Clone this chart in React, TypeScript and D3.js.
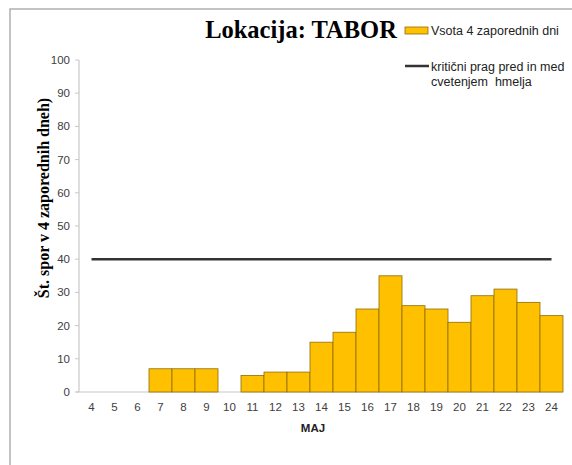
import React from "react";
import * as d3 from "d3";

const days = ["4","5","6","7","8","9","10","11","12","13","14","15","16","17","18","19","20","21","22","23","24"];
const values = [0,0,0,7,7,7,0,5,6,6,15,18,25,35,26,25,21,29,31,27,23];
const threshold = 40;
const yTicks = [0,10,20,30,40,50,60,70,80,90,100];
const title = "Lokacija: TABOR";
const seriesName = "Vsota 4 zaporednih dni";
const lineName1 = "kritični prag pred in med";
const lineName2 = "cvetenjem\u00a0 hmelja";
const yTitle = "Št. spor v 4 zaporednih dneh)";
const xTitle = "MAJ";

export default function App() {
  const W = 572, H = 465;
  const x = d3.scaleBand<string>().domain(days).range([80, 563]).padding(0);
  const y = d3.scaleLinear().domain([0, 100]).range([392, 60]);
  const bw = x.bandwidth();
  const first = (x(days[0]) as number) + bw / 2;
  const last = (x(days[days.length - 1]) as number) + bw / 2;
  const lbl = "#404040";
  return (
    <svg width={W} height={H} style={{ position: "absolute", left: 0, top: 0 }} fontFamily="Liberation Sans, Arial, sans-serif">
      <rect x={0} y={0} width={W} height={H} fill="#fff" />
      <path d={`M10,${H} L10,9 L${W},9`} fill="none" stroke="#b0b0b0" strokeWidth={1.5} />
      <line x1={79} x2={79} y1={y(100)} y2={y(0)} stroke="#c8c8c8" strokeWidth={1.2} />
      <line x1={76} x2={563} y1={y(0)} y2={y(0)} stroke="#c8c8c8" strokeWidth={1.2} />
      {yTicks.map(t => (
        <g key={t}>
          <line x1={75} x2={79} y1={y(t)} y2={y(t)} stroke="#c8c8c8" strokeWidth={1} />
          <text x={70} y={y(t)} dy="0.35em" textAnchor="end" fontSize={11.5} fill={lbl}>{t}</text>
        </g>
      ))}
      {days.map((d, i) => (
        <g key={d}>
          {values[i] > 0 && (
            <rect x={x(d) as number} y={y(values[i])} width={bw} height={y(0) - y(values[i])}
              fill="#FFC000" stroke="#8c6d0a" strokeWidth={0.8} />
          )}
          <text x={(x(d) as number) + bw / 2} y={411} textAnchor="middle" fontSize={11.5} fill={lbl}>{d}</text>
        </g>
      ))}
      <line x1={first} x2={last} y1={y(threshold)} y2={y(threshold)} stroke="#333" strokeWidth={2.5} />
      <text x={301} y={38} textAnchor="middle" fontFamily="Liberation Serif, Times New Roman, serif" fontWeight="bold" fontSize={24.5} fill="#000">{title}</text>
      <text transform={`translate(49,${198}) rotate(-90)`} textAnchor="middle" fontFamily="Liberation Serif, Times New Roman, serif" fontWeight="bold" fontSize={16} fill="#000">{yTitle}</text>
      <text x={313} y={432} textAnchor="middle" fontWeight="bold" fontSize={11.5} fill="#222">{xTitle}</text>
      <rect x={405} y={27} width={23} height={7} fill="#FFC000" stroke="#8c6d0a" strokeWidth={0.8} />
      <text x={431} y={31} dy="0.35em" fontSize={12.5} fill="#222">{seriesName}</text>
      <line x1={405} x2={429} y1={66} y2={66} stroke="#333" strokeWidth={2.5} />
      <text x={431} y={67} dy="0.35em" fontSize={12.5} fill="#222">{lineName1}</text>
      <text x={431} y={82} dy="0.35em" fontSize={12.5} fill="#222">{lineName2}</text>
    </svg>
  );
}
